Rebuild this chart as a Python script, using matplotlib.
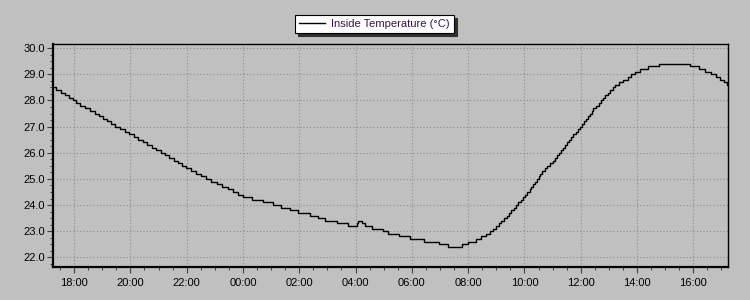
import datetime as dt
import matplotlib
matplotlib.use("Agg")
import matplotlib.pyplot as plt
import matplotlib.dates as mdates
from matplotlib.ticker import MultipleLocator, FormatStrFormatter

# Data (time when each reading starts, value in °C)
#--------------------------------------------------------------------
start = "17:15"
end = "17:15"
times = ["17:15", "17:21", "17:31", "17:41", "17:50", "17:58", "18:03", "18:13", "18:23", "18:34",
         "18:45", "18:53", "19:02", "19:10", "19:19", "19:27", "19:38", "19:49", "19:58", "20:08",
         "20:17", "20:27", "20:36", "20:46", "20:55", "21:05", "21:14", "21:23", "21:32", "21:41",
         "21:50", "21:59", "22:09", "22:20", "22:30", "22:41", "22:52", "23:04", "23:15", "23:27",
         "23:38", "23:49", "00:00", "00:20", "00:42", "01:03", "01:20", "01:40", "01:58", "02:22",
         "02:40", "02:55", "03:20", "03:44", "04:02", "04:05", "04:14", "04:21", "04:34", "04:58",
         "05:10", "05:33", "05:55", "06:26", "06:58", "07:17", "07:47", "07:59", "08:16", "08:27",
         "08:37", "08:47", "08:53", "09:00", "09:06", "09:11", "09:16", "09:22", "09:27", "09:32",
         "09:37", "09:42", "09:47", "09:52", "09:57", "10:02", "10:06", "10:11", "10:15", "10:19",
         "10:23", "10:26", "10:30", "10:33", "10:38", "10:44", "10:49", "10:55", "11:00", "11:05",
         "11:10", "11:14", "11:18", "11:22", "11:26", "11:31", "11:35", "11:40", "11:44", "11:49",
         "11:54", "11:59", "12:03", "12:07", "12:11", "12:15", "12:19", "12:23", "12:27", "12:32",
         "12:38", "12:43", "12:47", "12:52", "12:58", "13:03", "13:08", "13:13", "13:22", "13:31",
         "13:40", "13:48", "13:56", "14:07", "14:24", "14:47", "15:54", "16:12", "16:24", "16:37",
         "16:49", "16:57", "17:06", "17:12"]
temps = [28.5, 28.4, 28.3, 28.2, 28.1, 28.0, 27.9, 27.8, 27.7, 27.6,
         27.5, 27.4, 27.3, 27.2, 27.1, 27.0, 26.9, 26.8, 26.7, 26.6,
         26.5, 26.4, 26.3, 26.2, 26.1, 26.0, 25.9, 25.8, 25.7, 25.6,
         25.5, 25.4, 25.3, 25.2, 25.1, 25.0, 24.9, 24.8, 24.7, 24.6,
         24.5, 24.4, 24.3, 24.2, 24.1, 24.0, 23.9, 23.8, 23.7, 23.6,
         23.5, 23.4, 23.3, 23.2, 23.3, 23.4, 23.3, 23.2, 23.1, 23.0,
         22.9, 22.8, 22.7, 22.6, 22.5, 22.4, 22.5, 22.6, 22.7, 22.8,
         22.9, 23.0, 23.1, 23.2, 23.3, 23.4, 23.5, 23.6, 23.7, 23.8,
         23.9, 24.0, 24.1, 24.2, 24.3, 24.4, 24.5, 24.6, 24.7, 24.8,
         24.9, 25.0, 25.1, 25.2, 25.3, 25.4, 25.5, 25.6, 25.7, 25.8,
         25.9, 26.0, 26.1, 26.2, 26.3, 26.4, 26.5, 26.6, 26.7, 26.8,
         26.9, 27.0, 27.1, 27.2, 27.3, 27.4, 27.5, 27.6, 27.7, 27.8,
         27.9, 28.0, 28.1, 28.2, 28.3, 28.4, 28.5, 28.6, 28.7, 28.8,
         28.9, 29.0, 29.1, 29.2, 29.3, 29.4, 29.3, 29.2, 29.1, 29.0,
         28.9, 28.8, 28.7, 28.6]
label = "Inside Temperature (°C)"

# Turn HH:MM into datetimes spanning two days
#--------------------------------------------------------------------
day0 = dt.datetime(2024, 1, 1)
def to_dt(s, prev):
    h, m = map(int, s.split(":"))
    d = day0 + dt.timedelta(hours=h, minutes=m)
    while prev is not None and d < prev:
        d += dt.timedelta(days=1)
    return d

x = []
prev = None
for s in times:
    prev = to_dt(s, prev)
    x.append(prev)
x_start = x[0]
x_end = to_dt(end, x[-1])
y = list(temps)
x.append(x_end)
y.append(temps[-1])

# Plot
#--------------------------------------------------------------------
plt.rcParams['font.family'] = ['Liberation Sans', 'DejaVu Sans']
bg = '#c0c0c0'
fig = plt.figure(figsize=(7.5, 3), dpi=100, facecolor=bg)
ax = fig.add_axes([0.0707, 0.11, 0.9006, 0.7433], facecolor=bg)

ax.plot(x, y, drawstyle='steps-post', color='black', linewidth=1.0, label=label)

ax.set_xlim(x_start, x_end)
ax.set_ylim(21.63, 30.16)

ax.xaxis.set_major_locator(mdates.HourLocator(byhour=range(0, 24, 2)))
ax.xaxis.set_minor_locator(mdates.MinuteLocator(byminute=[0, 30]))
ax.xaxis.set_major_formatter(mdates.DateFormatter('%H:%M'))
ax.yaxis.set_major_locator(MultipleLocator(1.0))
ax.yaxis.set_minor_locator(MultipleLocator(0.25))
ax.yaxis.set_major_formatter(FormatStrFormatter('%.1f'))

ax.tick_params(axis='both', which='major', direction='out', length=4, width=0.8,
               labelsize=8, color='#404040', pad=2)
ax.tick_params(axis='both', which='minor', direction='out', length=2.5, width=0.7,
               color='#404040')
ax.tick_params(axis='x', which='major', pad=4)
ax.grid(True, which='major', color='#8c8c8c', linestyle=(0, (1, 2)), linewidth=0.8)

for side in ['left', 'bottom']:
    ax.spines[side].set_linewidth(1.6)
    ax.spines[side].set_color('black')
for side in ['top', 'right']:
    ax.spines[side].set_linewidth(1.0)
    ax.spines[side].set_color('black')

leg = fig.legend(loc='center', bbox_to_anchor=(0.4993, 0.919), fontsize=8,
                 frameon=True, fancybox=False, shadow={'color': '#303030', 'alpha': 1},
                 handlelength=2.3, handletextpad=0.6, borderpad=0.35,
                 borderaxespad=0)
leg.get_frame().set_edgecolor('black')
leg.get_frame().set_linewidth(0.8)
leg.get_frame().set_facecolor('white')
leg.get_frame().set_alpha(1)
for t in leg.get_texts():
    t.set_color('#3c1050')

fig.savefig('out.png', dpi=100, facecolor=bg)
